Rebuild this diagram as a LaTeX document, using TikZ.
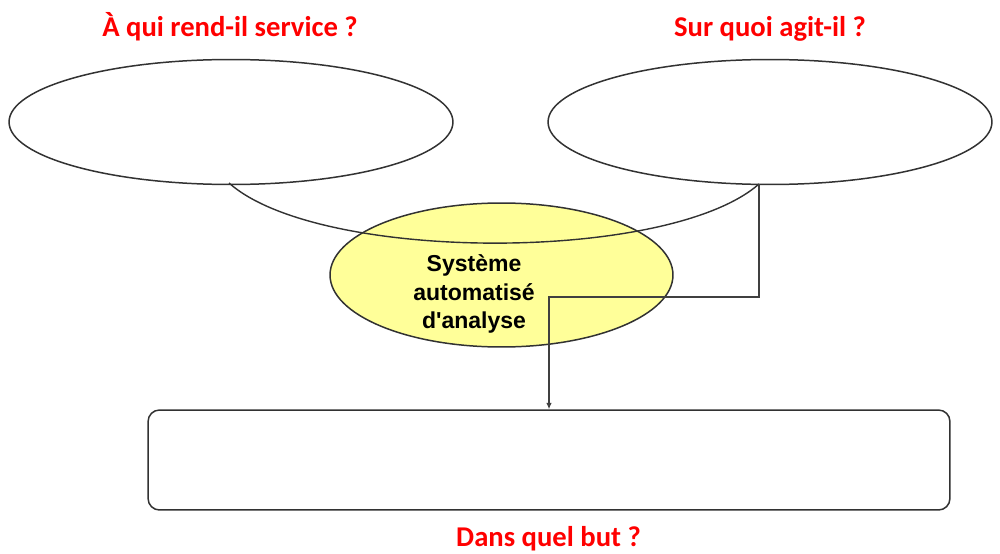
\documentclass[tikz,border=0pt]{standalone}
\usepackage{fontspec}
\setmainfont{Liberation Sans}[Ligatures=TeXOff]
\newfontfamily\calfont{Carlito}
\usetikzlibrary{shapes.geometric,arrows.meta}
\definecolor{qred}{RGB}{255,0,0}
\definecolor{sysyellow}{RGB}{255,255,153}
\definecolor{outline}{RGB}{50,50,50}
\definecolor{connc}{RGB}{64,64,64}
\tikzset{
  question/.style={text=qred, font=\calfont\bfseries\fontsize{16.3}{19}\selectfont, inner sep=0pt, anchor=base},
  bigell/.style={ellipse, draw=outline, line width=0.85pt, minimum width=8.88cm, minimum height=2.5cm, inner sep=0pt},
  sysell/.style={ellipse, draw=outline, fill=sysyellow, line width=0.85pt, minimum width=6.86cm, minimum height=2.88cm, inner sep=0pt},
  systext/.style={align=center, font=\bfseries\fontsize{13.1}{16.4}\selectfont, inner sep=0pt},
  goalbox/.style={draw=outline, line width=0.85pt, rounded corners=6.5pt, minimum width=16.04cm, minimum height=2cm, inner sep=0pt},
  arcline/.style={draw=outline, line width=0.8pt},
  conn/.style={draw=connc, line width=0.75pt}
}
\begin{document}
\begin{tikzpicture}[x=0.02cm,y=-0.02cm]
\useasboundingbox[fill=white] (0,0) rectangle (1000,554);
% question labels
\node[question] (q1) at (230,37) {À qui rend-il service ?};
\node[question] (q2) at (770,37) {Sur quoi agit-il ?};
\node[question] (q3) at (548.5,546) {Dans quel but ?};
% ellipses
\node[bigell] (left) at (231,122) {};
\node[bigell] (right) at (770,122) {};
\node[sysell] (sys) at (501.5,275) {};
\node[systext] (syst) at (474,294) {Système\\automatisé\\ d'analyse};
% goal box
\node[goalbox] (box) at (549,460) {};
% feet of the horns
\coordinate (lFoot) at (229,183);
\coordinate (rFoot) at (759,184);
\coordinate (turn) at (549,297);
% arc linking the two ellipses
\draw[arcline] (lFoot) .. controls (319,263) and (669,263) .. (rFoot);
% connector to the goal
\draw[conn, -{Latex[length=3.6pt,width=3.2pt]}] (rFoot) |- (turn) -- (turn |- box.north);
\end{tikzpicture}
\end{document}
